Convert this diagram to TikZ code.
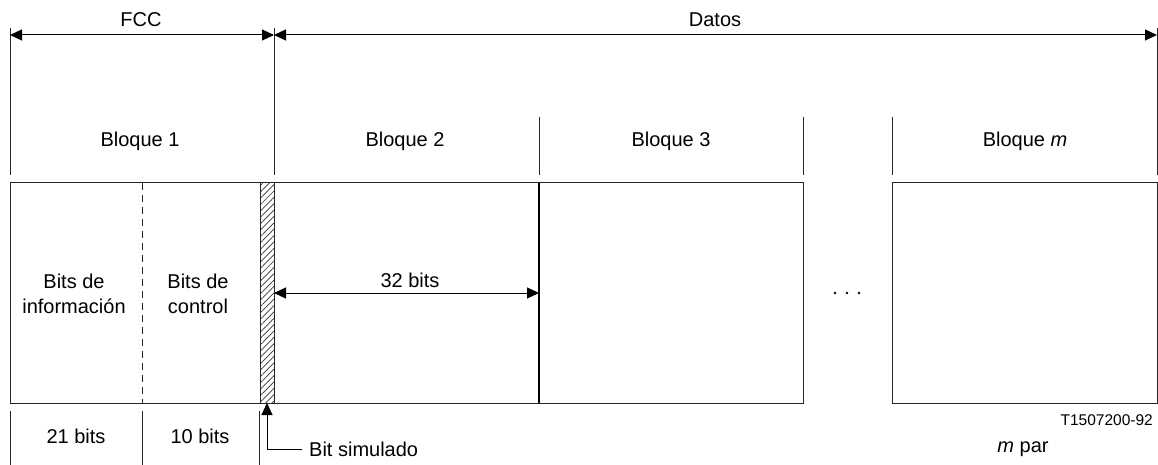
\documentclass[tikz,border=0pt]{standalone}
\usepackage{fontspec}
\setmainfont{Liberation Sans}
\usetikzlibrary{arrows.meta,patterns.meta}
\begin{document}
\begin{tikzpicture}[x=1pt,y=-1pt,
  ln/.style={line width=1pt,black!85},
  thk/.style={line width=2pt,black},
  dimarr/.style={line width=1pt,black,{Triangle[length=12pt,width=11pt]}-{Triangle[length=12pt,width=11pt]}},
  onearr/.style={line width=1pt,black,-{Triangle[length=12pt,width=11pt]}},
  lbl/.style={inner sep=0pt,anchor=base,font=\fontsize{20}{23}\selectfont},
  small/.style={inner sep=0pt,anchor=base east,font=\fontsize{15.5}{18}\selectfont}]
\useasboundingbox (0,0) rectangle (1158,465);
% tick coordinates
\coordinate (tA1) at (10,28);   \coordinate (tA2) at (10,175);
\coordinate (tB1) at (274,28);  \coordinate (tB2) at (274,175);
\coordinate (tC1) at (1157,28); \coordinate (tC2) at (1157,175);
\coordinate (tD1) at (539,117); \coordinate (tD2) at (539,175);
\coordinate (tE1) at (803,117); \coordinate (tE2) at (803,175);
\coordinate (tF1) at (892,117); \coordinate (tF2) at (892,175);
\coordinate (aA) at (10,35); \coordinate (aB) at (274,35); \coordinate (aC) at (1157,35);
\draw[ln] (tA1) -- (tA2);
\draw[ln] (tB1) -- (tB2);
\draw[ln] (tC1) -- (tC2);
\draw[ln] (tD1) -- (tD2);
\draw[ln] (tE1) -- (tE2);
\draw[ln] (tF1) -- (tF2);
\draw[dimarr] (aA) -- (aB);
\draw[dimarr] (aB) -- (aC);
\node[lbl] (fcc) at (141,27) {FCC};
\node[lbl] (datos) at (715,27) {Datos};
\node[lbl] (b1) at (140,147) {Bloque 1};
\node[lbl] (b2) at (405,147) {Bloque 2};
\node[lbl] (b3) at (671,147) {Bloque 3};
\node[lbl] (bm) at (1025,147) {Bloque \textit{m}};
% main frame
\coordinate (r1) at (10,183); \coordinate (r2) at (803,403);
\draw[ln] (r1) rectangle (r2);
\coordinate (m1) at (892,183); \coordinate (m2) at (1157,403);
\draw[ln] (m1) rectangle (m2);
% dashed divider
\coordinate (d1) at (142,183); \coordinate (d2) at (142,403);
\draw[ln,dash pattern=on 7pt off 5pt] (d1) -- (d2);
% hatched strip
\coordinate (h1) at (260,183); \coordinate (h2) at (274,403);
\fill[pattern={Lines[angle=45,distance=4.5pt,line width=0.7pt]},pattern color=black!80] (h1) rectangle (h2);
\draw[ln] (h1) rectangle (h2);
% thick divider
\coordinate (k1) at (539,183); \coordinate (k2) at (539,403);
\draw[thk] (k1) -- (k2);
% 32 bits
\coordinate (s1) at (274,293); \coordinate (s2) at (539,293);
\draw[dimarr] (s1) -- (s2);
\node[lbl] (bits32) at (410,287) {32 bits};
\node[lbl] (inf1) at (74,288) {Bits de};
\node[lbl] (inf2) at (74,313) {información};
\node[lbl] (ctl1) at (198,288) {Bits de};
\node[lbl] (ctl2) at (198,313) {control};
% dots
\foreach \x in {835,847,859}
  \fill (\x,293) circle (1.4pt);
% bottom ticks
\coordinate (u1) at (10,411);  \coordinate (u1b) at (10,465);
\coordinate (u2) at (142,411); \coordinate (u2b) at (142,465);
\coordinate (u3) at (259,411); \coordinate (u3b) at (259,465);
\draw[ln] (u1) -- (u1b);
\draw[ln] (u2) -- (u2b);
\draw[ln] (u3) -- (u3b);
\node[lbl] (b21) at (76,443) {21 bits};
\node[lbl] (b10) at (200,443) {10 bits};
% bit simulado
\coordinate (bsTip) at (267,403);
\coordinate (bsCorner) at (267,449);
\node[lbl,anchor=base west] (bs) at (309,456) {Bit simulado};
\coordinate (bsEnd) at (302,449);
\draw[onearr] (bsEnd) -- (bsCorner) -- (bsTip);
\node[small] (ref) at (1153,425) {T1507200-92};
\node[lbl] (mpar) at (1023,452) {\textit{m} par};
\end{tikzpicture}
\end{document}
